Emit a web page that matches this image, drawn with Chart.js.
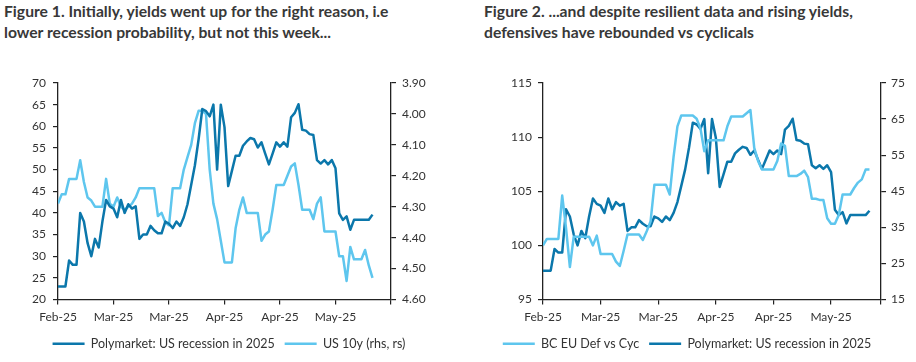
<!DOCTYPE html>
<html>
<head>
<meta charset="utf-8">
<script src="https://cdn.jsdelivr.net/npm/chart.js@4.4.1/dist/chart.umd.min.js"></script>
<style>
  html, body { margin:0; padding:0; background:#fff; }
  body { width:916px; height:362px; position:relative; overflow:hidden; font-family:Lato, sans-serif; }
  .title { position:absolute; top:1px; font-weight:700; font-size:15.7px; line-height:21px; color:#383838; white-space:nowrap; }
  .panel { position:absolute; top:50px; width:458px; height:312px; }
</style>
</head>
<body>
<div class="title" style="left:4px">Figure 1. Initially, yields went up for the right reason, i.e<br>lower recession probability, but not this week...</div>
<div class="title" style="left:484px">Figure 2. ...and despite resilient data and rising yields,<br>defensives have rebounded vs cyclicals</div>
<div class="panel" style="left:0"><canvas id="fig1"></canvas></div>
<div class="panel" style="left:458px"><canvas id="fig2"></canvas></div>
<script>
/* daily series, 24 Feb 2025 -> 20 May 2025 (weekends carried forward) */
const tickLabels = ['Feb-25', 'Mar-25', 'Mar-25', 'Apr-25', 'Apr-25', 'May-25', ''];

// Polymarket: US recession in 2025 (%)
const polymarket = [
  23, 23, 23, 29, 28, 28, 40, 38, 33, 30,
  34, 32, 38, 43, 41.5, 41, 39, 43, 40, 42,
  41, 41.5, 34, 35, 35, 37, 36, 35.3, 35.3, 38,
  37.5, 36.5, 38, 37, 39, 42, 46.5, 51, 57, 64,
  63.5, 62.3, 65, 50, 65, 59.8, 46.2, 49.7, 53.2, 53.2,
  55.5, 56.5, 57.3, 57, 55.1, 56.3, 53.7, 51.2, 53.7, 56.3,
  55.3, 56.3, 55.3, 62.1, 63.1, 65.1, 59.2, 59, 58.2, 58,
  52.2, 51.4, 52.2, 51.2, 52.2, 50.3, 39.9, 38.4, 39.2, 36.1,
  38.4, 38.4, 38.4, 38.4, 38.4, 39.6
];

// US 10y yield (%), right axis, inverted
const us10y = [
  4.29, 4.26, 4.26, 4.21, 4.21, 4.21, 4.15, 4.22, 4.27, 4.28,
  4.30, 4.30, 4.30, 4.21, 4.29, 4.30, 4.27, 4.30, 4.31, 4.30,
  4.29, 4.27, 4.24, 4.24, 4.24, 4.24, 4.24, 4.33, 4.32, 4.35,
  4.36, 4.24, 4.24, 4.24, 4.18, 4.14, 4.10, 4.03, 3.99, 3.99,
  4.00, 4.18, 4.29, 4.34, 4.41, 4.48, 4.48, 4.48, 4.37, 4.31,
  4.27, 4.32, 4.32, 4.32, 4.32, 4.41, 4.39, 4.38, 4.31, 4.23,
  4.23, 4.23, 4.20, 4.17, 4.16, 4.23, 4.31, 4.31, 4.31, 4.34,
  4.29, 4.27, 4.38, 4.38, 4.38, 4.38, 4.46, 4.46, 4.54, 4.43,
  4.47, 4.47, 4.47, 4.44, 4.49, 4.53
];

// BC EU Defensives vs Cyclicals (index)
const defVsCyc = [
  100.0, 100.6, 100.6, 100.6, 100.6, 104.6, 101.6, 98.0, 100.8, 100.8,
  100.8, 100.8, 100.8, 100.0, 100.9, 99.2, 99.2, 99.2, 99.2, 98.5,
  98.1, 99.5, 101.0, 101.0, 101.0, 101.0, 100.5, 101.3, 102.2, 105.6,
  105.6, 105.6, 105.6, 104.7, 108.2, 111.0, 112.0, 112.0, 112.0, 112.0,
  111.7, 110.8, 108.7, 109.7, 109.7, 109.7, 109.7, 109.7, 111.0, 111.9,
  111.9, 111.9, 111.9, 112.2, 112.5, 109.0, 107.8, 107.0, 107.0, 107.0,
  107.0, 107.8, 109.4, 109.2, 106.4, 106.4, 106.4, 106.6, 106.9, 106.3,
  104.3, 104.3, 104.2, 104.2, 102.5, 102.0, 102.0, 102.8, 104.7, 104.7,
  104.7, 105.3, 105.8, 106.1, 107.0, 107.0
];

const days = polymarket.map((_, i) => i);

const DARK = '#0b77ab', LIGHT = '#5ec6ee', INK = '#333', AXIS = '#222';
const FONT = { family: 'Lato, sans-serif', size: 12 };

function axis(extra) {
  return Object.assign({
    grid: { drawOnChartArea:false, drawTicks:true, tickLength:5, color:AXIS, lineWidth:1.2 },
    border: { color:AXIS, width:1.3 },
    ticks: { color:INK, font:FONT, padding:6 }
  }, extra);
}

function line(label, data, color, yAxisID) {
  return { label, data, yAxisID, borderColor:color, backgroundColor:color,
    borderWidth:2.5, pointRadius:0, tension:0, borderJoinStyle:'round', fill:false };
}

function makeChart(id, datasets, xMax, yCfg, y1Cfg, leftW, rightW) {
  new Chart(document.getElementById(id), {
    type: 'line',
    data: { labels: days, datasets },
    options: {
      responsive:true, maintainAspectRatio:false, animation:false,
      layout: { padding:{ top:33, left:0, right:0, bottom:2 } },
      plugins: {
        tooltip:{ enabled:false },
        legend: { position:'bottom', labels:{ color:INK, font:{ family:FONT.family, size:12.5 },
          usePointStyle:true, pointStyle:'line', pointStyleWidth:32, boxHeight:12, padding:10 } }
      },
      scales: {
        x: axis({ type:'linear', min:0, max:xMax,
          ticks:{ color:INK, font:FONT, padding:5, stepSize:15, autoSkip:false, maxRotation:0,
            callback: v => tickLabels[Math.round(v / 15)] ?? '' },
          afterFit: s => { s.height = 28; } }),
        y: axis(Object.assign({ position:'left', afterFit: s => { s.width = leftW; } }, yCfg)),
        y1: axis(Object.assign({ position:'right', afterFit: s => { s.width = rightW; } }, y1Cfg))
      }
    }
  });
}

makeChart('fig1', [
    line('Polymarket: US recession in 2025', polymarket, DARK, 'y'),
    line('US 10y (rhs, rs)', us10y, LIGHT, 'y1')
  ], 90,
  { min:20, max:70, ticks:{ color:INK, font:FONT, padding:7, stepSize:5 } },
  { min:3.9, max:4.6, reverse:true, ticks:{ color:INK, font:FONT, padding:6, stepSize:0.1, callback: v => v.toFixed(2) } },
  58, 67);

makeChart('fig2', [
    line('BC EU Def vs Cyc', defVsCyc, LIGHT, 'y'),
    line('Polymarket: US recession in 2025', polymarket, DARK, 'y1')
  ], 88,
  { min:95, max:115, ticks:{ color:INK, font:FONT, padding:6, stepSize:5 } },
  { min:15, max:75, ticks:{ color:INK, font:FONT, padding:5, stepSize:10 } },
  85, 35);
</script>
</body>
</html>
